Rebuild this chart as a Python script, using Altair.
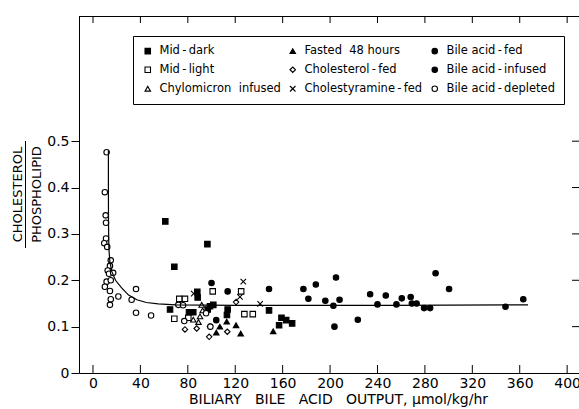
import altair as alt
import pandas as pd

# ---------------- data ----------------
groups = [
    "Mid\u2009-\u2009dark", "Mid\u2009-\u2009light", "Chylomicron\u00a0 infused",
    "Fasted\u00a0 48 hours", "Cholesterol\u2009-\u2009fed", "Cholestyramine\u2009-\u2009fed",
    "Bile acid\u2009-\u2009fed", "Bile acid\u2009-\u2009infused", "Bile acid\u2009-\u2009depleted",
]

mid_dark_x = [61, 68.6, 96.5, 65, 81, 84.6, 88, 88.3, 96.8, 98.7, 101.5, 113, 113.6, 148.5, 157, 159, 163, 168]
mid_dark_y = [0.327, 0.229, 0.278, 0.137, 0.131, 0.131, 0.175, 0.163, 0.137, 0.144, 0.147, 0.125, 0.137, 0.135, 0.103, 0.119, 0.114, 0.107]

mid_light_x = [68.6, 72.8, 77.6, 80.4, 101, 125, 127.7, 134.8]
mid_light_y = [0.117, 0.16, 0.16, 0.119, 0.176, 0.176, 0.127, 0.127]

chylo_x = [84.6, 89, 90.3, 92.5, 91.7]
chylo_y = [0.115, 0.11, 0.122, 0.135, 0.147]

fasted_x = [104, 107, 112.8, 120.7, 124.6, 152]
fasted_y = [0.087, 0.1, 0.111, 0.103, 0.085, 0.09]

chol_fed_x = [77.6, 87.5, 98, 98.7, 113.3, 120.7]
chol_fed_y = [0.094, 0.096, 0.078, 0.1, 0.089, 0.153]

cholestyr_x = [85, 124, 126.8, 141]
cholestyr_y = [0.171, 0.164, 0.197, 0.149]

bile_fed_x = [100, 104, 113.6, 148.5, 177.5, 181.7, 188, 196, 205, 208, 233.8, 240, 247, 260.5, 268, 289, 300.4, 363]
bile_fed_y = [0.194, 0.114, 0.176, 0.181, 0.181, 0.16, 0.191, 0.156, 0.206, 0.158, 0.17, 0.148, 0.167, 0.161, 0.164, 0.215, 0.181, 0.159]

bile_inf_x = [202.8, 203.7, 223.4, 256, 269, 273, 279.3, 284.4, 348]
bile_inf_y = [0.145, 0.1, 0.115, 0.148, 0.15, 0.15, 0.14, 0.14, 0.143]

depleted_x = [11.5, 10, 10.7, 11, 11, 9.5, 12, 15, 14.3, 12.4, 13.5, 17, 11.5, 15, 10, 14.3, 15, 14.3,
              21.4, 32.6, 36.3, 36.3, 49, 72, 76, 77, 95.4, 99]
depleted_y = [0.476, 0.39, 0.34, 0.324, 0.29, 0.28, 0.272, 0.243, 0.231, 0.221, 0.214, 0.216, 0.197, 0.2,
              0.186, 0.177, 0.159, 0.147, 0.165, 0.158, 0.181, 0.13, 0.124, 0.147, 0.146, 0.112, 0.129, 0.1]

# fitted curve
curve_x = [13, 13, 13.1, 13.4, 14.2, 16, 19, 24, 30, 37, 45, 55, 70, 120, 250, 367]
curve_y = [0.48, 0.40, 0.32, 0.27, 0.24, 0.218, 0.2, 0.184, 0.168, 0.158, 0.152, 0.149, 0.147, 0.146, 0.146, 0.147]

x_ticks = [0, 40, 80, 120, 160, 200, 240, 280, 320, 360, 400]
y_ticks = [0, 0.1, 0.2, 0.3, 0.4, 0.5]
right_ticks = [0.1, 0.2, 0.3, 0.4, 0.5]

# symbol styles per group (same order as groups)
shapes = ["square", "square", "triangle-up", "triangle-up", "diamond",
          "M-1,-1L1,1M-1,1L1,-1", "circle", "circle", "circle"]
fills = ["black", "white", "white", "black", "white", "white", "black", "black", "white"]
strokes = ["black"] * 9
sizes = [30, 30, 36, 36, 34, 30, 52, 24, 26]

series = [
    (groups[0], mid_dark_x, mid_dark_y),
    (groups[1], mid_light_x, mid_light_y),
    (groups[2], chylo_x, chylo_y),
    (groups[3], fasted_x, fasted_y),
    (groups[4], chol_fed_x, chol_fed_y),
    (groups[5], cholestyr_x, cholestyr_y),
    (groups[6], bile_fed_x, bile_fed_y),
    (groups[7], bile_inf_x, bile_inf_y),
    (groups[8], depleted_x, depleted_y),
]
rows = []
for name, xs, ys in series:
    for xv, yv in zip(xs, ys):
        rows.append({"x": xv, "y": yv, "group": name})
df = pd.DataFrame(rows)
curve_df = pd.DataFrame({"x": curve_x, "y": curve_y, "i": list(range(len(curve_x)))})
xt_df = pd.DataFrame({"t": x_ticks})
yt_df = pd.DataFrame({"t": right_ticks})

FONT = "DejaVu Sans"
W, H = 500, 357
x_scale = alt.Scale(domain=[-11.8, 410], nice=False, zero=False)
y_scale = alt.Scale(domain=[0, 0.77], nice=False, zero=False)

leg = alt.Legend(
    title=None, orient="none", legendX=54, legendY=20, columns=3,
    columnPadding=6, rowPadding=6, padding=9, strokeColor="black",
    labelFont=FONT, labelFontSize=11.5, labelColor="black", labelOffset=6,
    symbolStrokeColor="black", symbolStrokeWidth=1.1, gridAlign="each",
)

points = alt.Chart(df).mark_point(strokeWidth=1.1, opacity=1).encode(
    x=alt.X("x:Q", scale=x_scale,
            axis=alt.Axis(orient="bottom", values=x_ticks, ticks=False, domain=True,
                          labelPadding=3, labelFontSize=14,
                          title="BILIARY\u00a0\u00a0 BILE\u00a0\u00a0 ACID\u00a0\u00a0 OUTPUT, \u03bcmol/kg/hr",
                          titleFontSize=14, titleBaseline="alphabetic", titleY=30, titleX=259)),
    y=alt.Y("y:Q", scale=y_scale,
            axis=alt.Axis(orient="left", values=y_ticks, tickSize=8, domain=True,
                          labelPadding=2, labelFontSize=14,
                          labelExpr="datum.value == 0 ? '0' : format(datum.value, '.1f')",
                          title=["CHOLESTEROL", "PHOSPHOLIPID"], titleFontSize=13,
                          titleLineHeight=19, titleBaseline="middle", titleAlign="center",
                          titleX=-62, titleY=178, titleAngle=270)),
    shape=alt.Shape("group:N", scale=alt.Scale(domain=groups, range=shapes), legend=leg),
    fill=alt.Fill("group:N", scale=alt.Scale(domain=groups, range=fills), legend=leg),
    stroke=alt.Stroke("group:N", scale=alt.Scale(domain=groups, range=strokes), legend=leg),
    size=alt.Size("group:N", scale=alt.Scale(domain=groups, range=sizes), legend=leg),
)

curve = alt.Chart(curve_df).mark_line(color="black", strokeWidth=1.2).encode(
    x=alt.X("x:Q", scale=x_scale, axis=None),
    y=alt.Y("y:Q", scale=y_scale, axis=None),
    order=alt.Order("i:Q"),
)

# inward tick marks on the frame, placed through the scales
bottom_ticks = alt.Chart(xt_df).mark_rule(color="black", strokeWidth=1).encode(
    x=alt.X("t:Q", scale=x_scale, axis=None), y=alt.value(H - 8), y2=alt.value(H)
)
top_ticks = alt.Chart(xt_df).mark_rule(color="black", strokeWidth=1).encode(
    x=alt.X("t:Q", scale=x_scale, axis=None), y=alt.value(0), y2=alt.value(7)
)
side_ticks = alt.Chart(yt_df).mark_rule(color="black", strokeWidth=1).encode(
    y=alt.Y("t:Q", scale=y_scale, axis=None), x=alt.value(W - 7), x2=alt.value(W)
)
top_frame = alt.Chart(xt_df).mark_rule(color="black", strokeWidth=1).encode(
    x=alt.value(0), x2=alt.value(W), y=alt.value(0.5)
)
frac_bar = alt.Chart(pd.DataFrame({"a": [0]})).mark_rule(color="black", strokeWidth=1).encode(
    x=alt.value(-53.5), y=alt.value(125), y2=alt.value(232)
)

chart = alt.layer(points, curve, bottom_ticks, top_ticks, side_ticks, top_frame, frac_bar).resolve_axis(
    x="independent", y="independent"
).properties(
    width=W, height=H,
    padding={"left": 79, "top": 16, "right": 0, "bottom": 36},
    autosize=alt.AutoSizeParams(type="none"),
).configure_axis(
    labelFont=FONT, titleFont=FONT, labelColor="black", titleColor="black",
    tickColor="black", domainColor="black", grid=False, titleFontWeight="normal",
    tickWidth=1, domainWidth=1,
).configure_view(stroke=None)

chart.save("out.html", embed_options={"renderer": "svg", "actions": False})
